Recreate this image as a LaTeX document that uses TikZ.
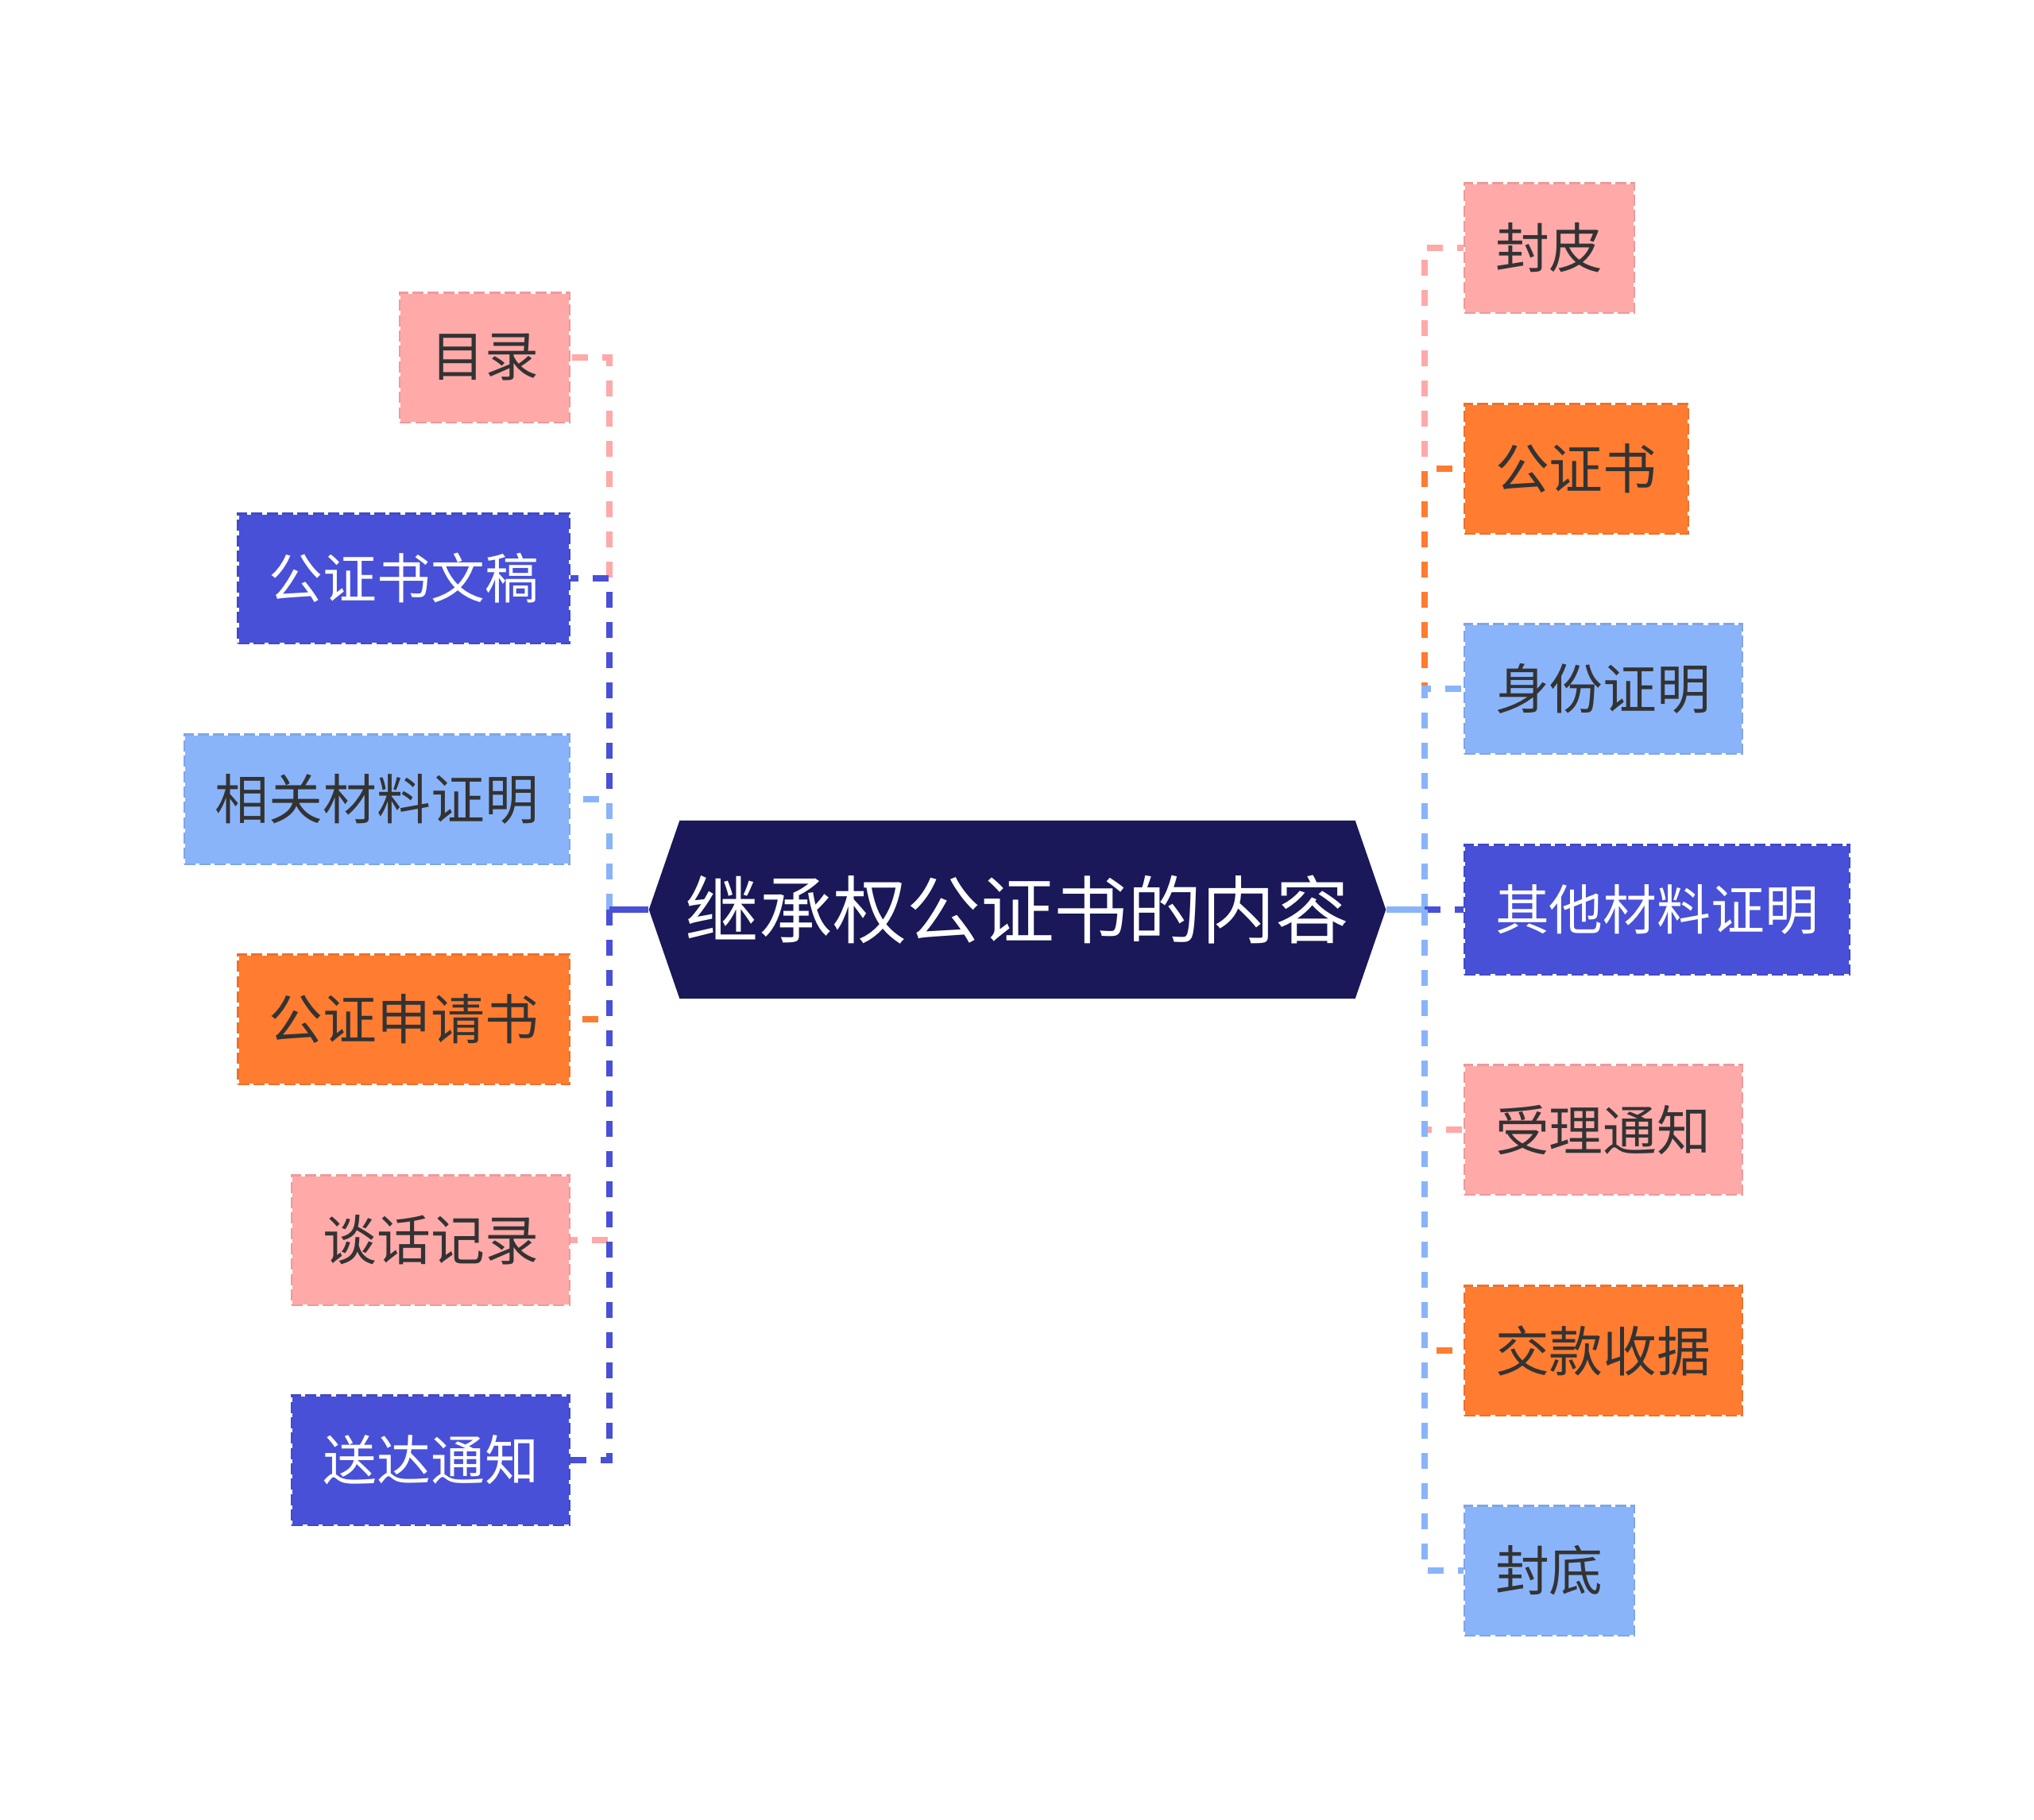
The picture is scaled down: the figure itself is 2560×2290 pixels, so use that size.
\documentclass[tikz,border=0pt]{standalone}
\usepackage{fontspec}
\newfontfamily\cjk{Noto Sans CJK SC}
\usetikzlibrary{shapes.symbols}

\definecolor{navyc}{RGB}{26,24,88}
\definecolor{pinkc}{RGB}{255,169,169}
\definecolor{orangec}{RGB}{255,124,48}
\definecolor{skyc}{RGB}{138,180,250}
\definecolor{bluec}{RGB}{72,80,216}
\definecolor{inkc}{RGB}{51,51,51}

\tikzset{
  leaf/.style={rectangle, fill=#1, draw=white, line width=0.6pt,
    minimum height=1.63cm, inner xsep=0.39cm, inner ysep=0pt, text=inkc,
    font=\cjk\fontsize{19.3pt}{23pt}\selectfont,
    postaction={draw=#1!92!black, dash pattern=on 4pt off 1.5pt}},
  darkleaf/.style={leaf=#1, text=white},
  conn/.style={draw=#1, line width=2.2pt, dash pattern=on 5.7pt off 5.1pt},
}

\begin{document}
\begin{tikzpicture}[x=0.01cm, y=-0.01cm]
    \useasboundingbox (0,0) rectangle (2560,2290);
    \node[signal, signal to=west and east, signal pointer angle=142, fill=navyc,
      minimum width=9.27cm, minimum height=2.24cm, inner sep=0pt, text=white,
      font=\cjk\fontsize{26.4pt}{32pt}\selectfont] (root) at (1280.5,1145) {继承权公证书的内容};
    \coordinate (lj) at (767,1145);
    \coordinate (rj) at (1793,1145);
    % left side
    \node[leaf=pinkc, anchor=east] (mulu) at (718,450) {目录};
    \node[darkleaf=bluec, anchor=east] (wengao) at (718,728) {公证书文稿};
    \node[leaf=skyc, anchor=east] (cailiao) at (718,1006) {相关材料证明};
    \node[leaf=orangec, anchor=east] (shenqing) at (718,1283) {公证申请书};
    \node[leaf=pinkc, anchor=east] (tanhua) at (718,1561) {谈话记录};
    \node[darkleaf=bluec, anchor=east] (songda) at (718,1838) {送达通知};
    % right side
    \node[leaf=pinkc, anchor=west] (fengpi) at (1842,312) {封皮};
    \node[leaf=orangec, anchor=west] (gzs) at (1842,590) {公证书};
    \node[leaf=skyc, anchor=west] (shenfen) at (1842,867) {身份证明};
    \node[darkleaf=bluec, anchor=west] (qita) at (1842,1145) {其他材料证明};
    \node[leaf=pinkc, anchor=west] (shouli) at (1842,1422) {受理通知};
    \node[leaf=orangec, anchor=west] (jiaokuan) at (1842,1700) {交款收据};
    \node[leaf=skyc, anchor=west] (fengdi) at (1842,1977) {封底};
    \foreach \n/\c in {mulu/pinkc, wengao/bluec, cailiao/skyc, shenqing/orangec, tanhua/pinkc, songda/bluec}
      \draw[conn=\c] (lj) |- (\n.east);
    \foreach \n/\c in {fengpi/pinkc, gzs/orangec, shenfen/skyc, qita/bluec, shouli/pinkc, jiaokuan/orangec, fengdi/skyc}
      \draw[conn=\c] (rj) |- (\n.west);
    \draw[bluec, line width=2.2pt] (root.west) -- (lj);
    \draw[skyc, line width=2.2pt] (root.east) -- (rj);
\end{tikzpicture}
\end{document}
